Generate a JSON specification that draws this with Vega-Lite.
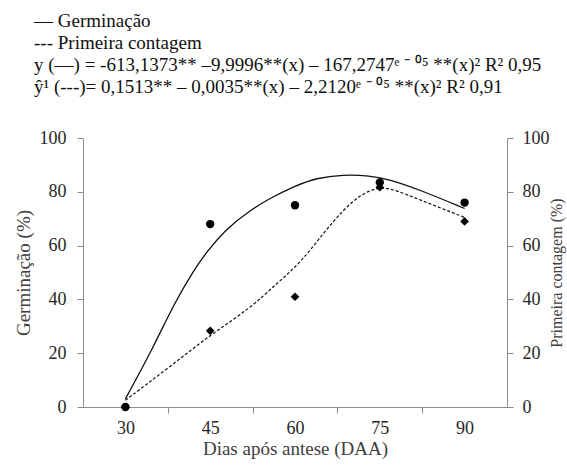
{
  "$schema": "https://vega.github.io/schema/vega-lite/v6.json",
  "width": 424,
  "height": 269,
  "autosize": {"type": "none"},
  "padding": {"left": 83, "top": 138, "right": 60, "bottom": 63},
  "background": "white",
  "config": {
    "view": {"stroke": null},
    "font": "Liberation Serif",
    "axis": {
      "domainColor": "#8c8c8c",
      "tickColor": "#8c8c8c",
      "tickSize": 6,
      "grid": false,
      "labelFont": "Liberation Serif",
      "labelFontSize": 18,
      "labelColor": "#262626",
      "titleFont": "Liberation Serif",
      "titleFontSize": 19,
      "titleFontWeight": "normal",
      "titleColor": "#404040"
    }
  },
  "title": {
    "text": [
      "— Germinação",
      " --- Primeira contagem",
      "y (—) = -613,1373** –9,9996**(x) – 167,2747ᵉ ⁻ ⁰⁵ **(x)²   R² 0,95",
      "ŷ¹ (---)= 0,1513** – 0,0035**(x) – 2,2120ᵉ ⁻ ⁰⁵ **(x)²   R² 0,91"
    ],
    "anchor": "start",
    "frame": "group",
    "dx": -49,
    "offset": 32,
    "font": "Liberation Serif",
    "fontSize": 19,
    "fontWeight": "normal",
    "color": "#111",
    "lineHeight": 22
  },
  "datasets": {
    "germFit": [
      {"x": 30, "y": 3},
      {"x": 35, "y": 22.4},
      {"x": 38.5, "y": 38},
      {"x": 42.1, "y": 50.9},
      {"x": 44.4, "y": 57.7},
      {"x": 47.9, "y": 66.4},
      {"x": 52.1, "y": 73.2},
      {"x": 55.6, "y": 77.6},
      {"x": 59.7, "y": 81.9},
      {"x": 63.8, "y": 85.2},
      {"x": 68.5, "y": 86.4},
      {"x": 73.2, "y": 86},
      {"x": 76.8, "y": 84.6},
      {"x": 82.1, "y": 80.7},
      {"x": 90, "y": 73.8}
    ],
    "germObs": [
      {"x": 30, "y": 0},
      {"x": 45, "y": 68},
      {"x": 60, "y": 75},
      {"x": 75, "y": 83.5},
      {"x": 90, "y": 76}
    ],
    "pcFit": [
      {"x": 30, "y": 2.5},
      {"x": 37.9, "y": 15},
      {"x": 45, "y": 26.8},
      {"x": 52.1, "y": 36.7},
      {"x": 56.8, "y": 46},
      {"x": 60.9, "y": 53.4},
      {"x": 65, "y": 64.6},
      {"x": 68.5, "y": 73.2},
      {"x": 71.5, "y": 78.8},
      {"x": 74.4, "y": 81.5},
      {"x": 76.8, "y": 81.5},
      {"x": 82.1, "y": 77},
      {"x": 90, "y": 70.5}
    ],
    "pcObs": [
      {"x": 30, "y": 0},
      {"x": 45, "y": 28.3},
      {"x": 60, "y": 41},
      {"x": 75, "y": 81.7},
      {"x": 90, "y": 69}
    ]
  },
  "layer": [
    {
      "layer": [
        {
          "data": {"name": "germFit"},
          "mark": {"type": "line", "interpolate": "basis", "color": "#111", "strokeWidth": 1.3},
          "encoding": {
            "x": {
              "field": "x", "type": "quantitative",
              "scale": {"domain": [22.5, 97.5], "nice": false, "zero": false},
              "axis": {
                "values": [30, 37.5, 45, 52.5, 60, 67.5, 75, 82.5, 90],
                "labelExpr": "datum.value % 15 == 0 ? datum.label : ''",
                "tickOpacity": {"condition": {"test": "datum.value % 15 == 0", "value": 0}, "value": 1},
                "title": "Dias após antese (DAA)",
                "labelPadding": 6,
                "titlePadding": 2,
                "labelFlush": false
              }
            },
            "y": {
              "field": "y", "type": "quantitative",
              "scale": {"domain": [0, 100], "nice": false},
              "axis": {"orient": "left", "values": [0, 20, 40, 60, 80, 100], "title": "Germinação (%)", "labelPadding": 11, "titlePadding": 6}
            }
          }
        },
        {
          "data": {"name": "germObs"},
          "mark": {"type": "point", "shape": "circle", "filled": true, "color": "#000", "size": 70, "opacity": 1},
          "encoding": {
            "x": {"field": "x", "type": "quantitative"},
            "y": {"field": "y", "type": "quantitative"}
          }
        }
      ]
    },
    {
      "layer": [
        {
          "data": {"name": "pcFit"},
          "mark": {"type": "line", "interpolate": "basis", "color": "#111", "strokeWidth": 1.2, "strokeDash": [3, 2]},
          "encoding": {
            "x": {"field": "x", "type": "quantitative"},
            "y": {
              "field": "y", "type": "quantitative",
              "scale": {"domain": [0, 100], "nice": false},
              "axis": {"orient": "right", "values": [0, 20, 40, 60, 80, 100], "title": "Primeira contagem (%)", "titleAngle": -90, "titleBaseline": "top", "titleFontSize": 16, "labelPadding": 9, "titlePadding": -1}
            }
          }
        },
        {
          "data": {"name": "pcObs"},
          "mark": {"type": "point", "shape": "diamond", "filled": true, "color": "#000", "size": 75, "opacity": 1},
          "encoding": {
            "x": {"field": "x", "type": "quantitative"},
            "y": {"field": "y", "type": "quantitative"}
          }
        }
      ]
    }
  ],
  "resolve": {"scale": {"y": "independent"}}
}
